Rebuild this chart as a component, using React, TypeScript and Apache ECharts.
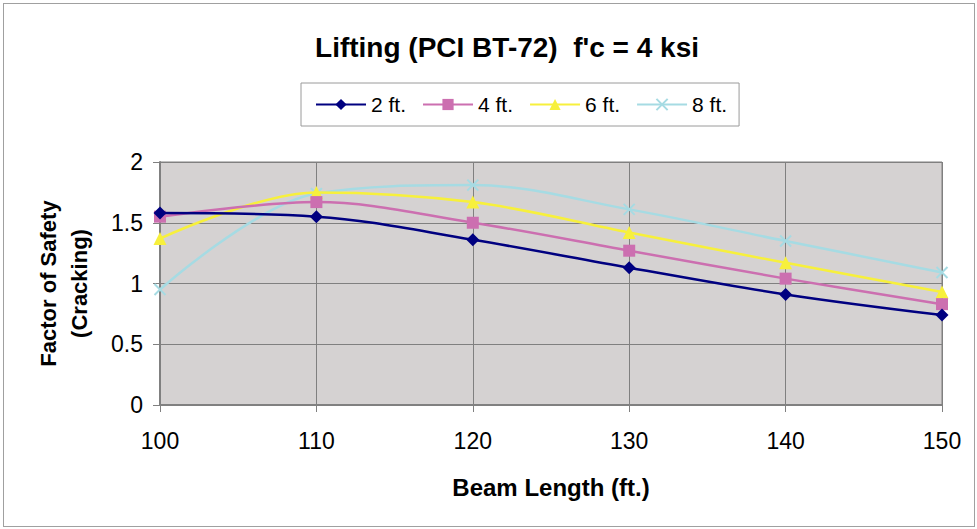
import React, { useEffect, useRef } from "react";
import * as echarts from "echarts";

const beamLengths = [100, 110, 120, 130, 140, 150];
const ft2 = [1.58, 1.55, 1.36, 1.13, 0.91, 0.74];
const ft4 = [1.55, 1.67, 1.5, 1.27, 1.04, 0.83];
const ft6 = [1.37, 1.75, 1.67, 1.42, 1.17, 0.93];
const ft8 = [0.95, 1.74, 1.81, 1.61, 1.35, 1.09];
const seriesNames = ["2 ft.", "4 ft.", "6 ft.", "8 ft."];
const yTicks = [0, 0.5, 1, 1.5, 2];

const FONT = "'Liberation Sans', Arial, sans-serif";

export default function App() {
  const ref = useRef<HTMLDivElement>(null);
  useEffect(() => {
    document.body.style.margin = "0";
    const chart = echarts.init(ref.current!, null, { renderer: "svg" });
    const pts = (vals: number[]) => beamLengths.map((x, i) => [x, vals[i]]);
    const colors = ["#000080", "#cc6fb0", "#f7f03c", "#a6dbe3"];
    const symbols = [
      "diamond",
      "rect",
      "triangle",
      "path://M0,0L10,10M10,0L0,10",
    ];
    const sizes = [13, 12, 13, 11];
    const datas = [ft2, ft4, ft6, ft8];
    chart.setOption({
      animation: false,
      backgroundColor: "#ffffff",
      textStyle: { fontFamily: FONT },
      title: {
        text: "Lifting (PCI BT-72)  f'c = 4 ksi",
        left: 502,
        textAlign: "center",
        top: 28,
        textStyle: { fontFamily: FONT, fontWeight: "bold", fontSize: 28, color: "#000" },
      },
      legend: {
        data: seriesNames,
        left: 301,
        top: 83,
        width: 458,
        height: 44,
        padding: [11, 12, 11, 14],
        itemGap: 16,
        itemWidth: 50,
        itemHeight: 14,
        borderColor: "#9a9a9a",
        borderWidth: 1,
        backgroundColor: "#ffffff",
        textStyle: { fontSize: 21, color: "#000", fontFamily: FONT },
      },
      grid: {
        left: 160,
        right: 35,
        top: 162,
        bottom: 124,
        outerBoundsMode: "none",
        containLabel: false,
        show: true,
        backgroundColor: "#d5d2d2",
        borderColor: "#808080",
        borderWidth: 1,
      },
      xAxis: {
        type: "value",
        min: 100,
        max: 150,
        interval: 10,
        name: "Beam Length (ft.)",
        nameLocation: "middle",
        nameGap: 70,
        nameTextStyle: { fontWeight: "bold", fontSize: 24, color: "#000", fontFamily: FONT },
        axisLine: { show: true, lineStyle: { color: "#808080", width: 2 } },
        axisTick: { show: true, length: 7, lineStyle: { color: "#808080" } },
        axisLabel: { fontSize: 23, color: "#000", margin: 24 },
        splitLine: { show: true, lineStyle: { color: "#808080", width: 1 } },
      },
      yAxis: {
        type: "value",
        min: 0,
        max: 2,
        interval: 0.5,
        name: "Factor of Safety\n(Cracking)",
        nameLocation: "middle",
        nameGap: 65,
        nameRotate: 90,
        nameTextStyle: { fontWeight: "bold", fontSize: 22, color: "#000", fontFamily: FONT, lineHeight: 31 },
        axisLine: { show: true, lineStyle: { color: "#808080", width: 2 } },
        axisTick: { show: true, length: 7, lineStyle: { color: "#808080" } },
        axisLabel: {
          fontSize: 23,
          color: "#000",
          margin: 17,
          formatter: (v: number) => (yTicks.includes(v) ? String(v) : ""),
        },
        splitLine: { show: true, lineStyle: { color: "#808080", width: 1 } },
      },
      series: datas.map((d, i) => ({
        name: seriesNames[i],
        type: "line",
        data: pts(d),
        smooth: 0.35,
        symbol: symbols[i],
        symbolSize: sizes[i],
        showSymbol: true,
        color: colors[i],
        lineStyle: { color: colors[i], width: 2.5 },
        itemStyle:
          i === 3
            ? { color: "none", borderColor: colors[i], borderWidth: 2 }
            : { color: colors[i] },
        z: 10 - i,
      })),
    });
    return () => chart.dispose();
  }, []);
  return (
    <div style={{ position: "fixed", left: 0, top: 0, width: 977, height: 529 }}>
      <div
        style={{
          position: "absolute",
          left: 3,
          top: 3,
          width: 970,
          height: 522,
          border: "1px solid #a0a0a0",
          pointerEvents: "none",
          zIndex: 2,
        }}
      />
      <div ref={ref} style={{ width: 977, height: 529 }} />
    </div>
  );
}
